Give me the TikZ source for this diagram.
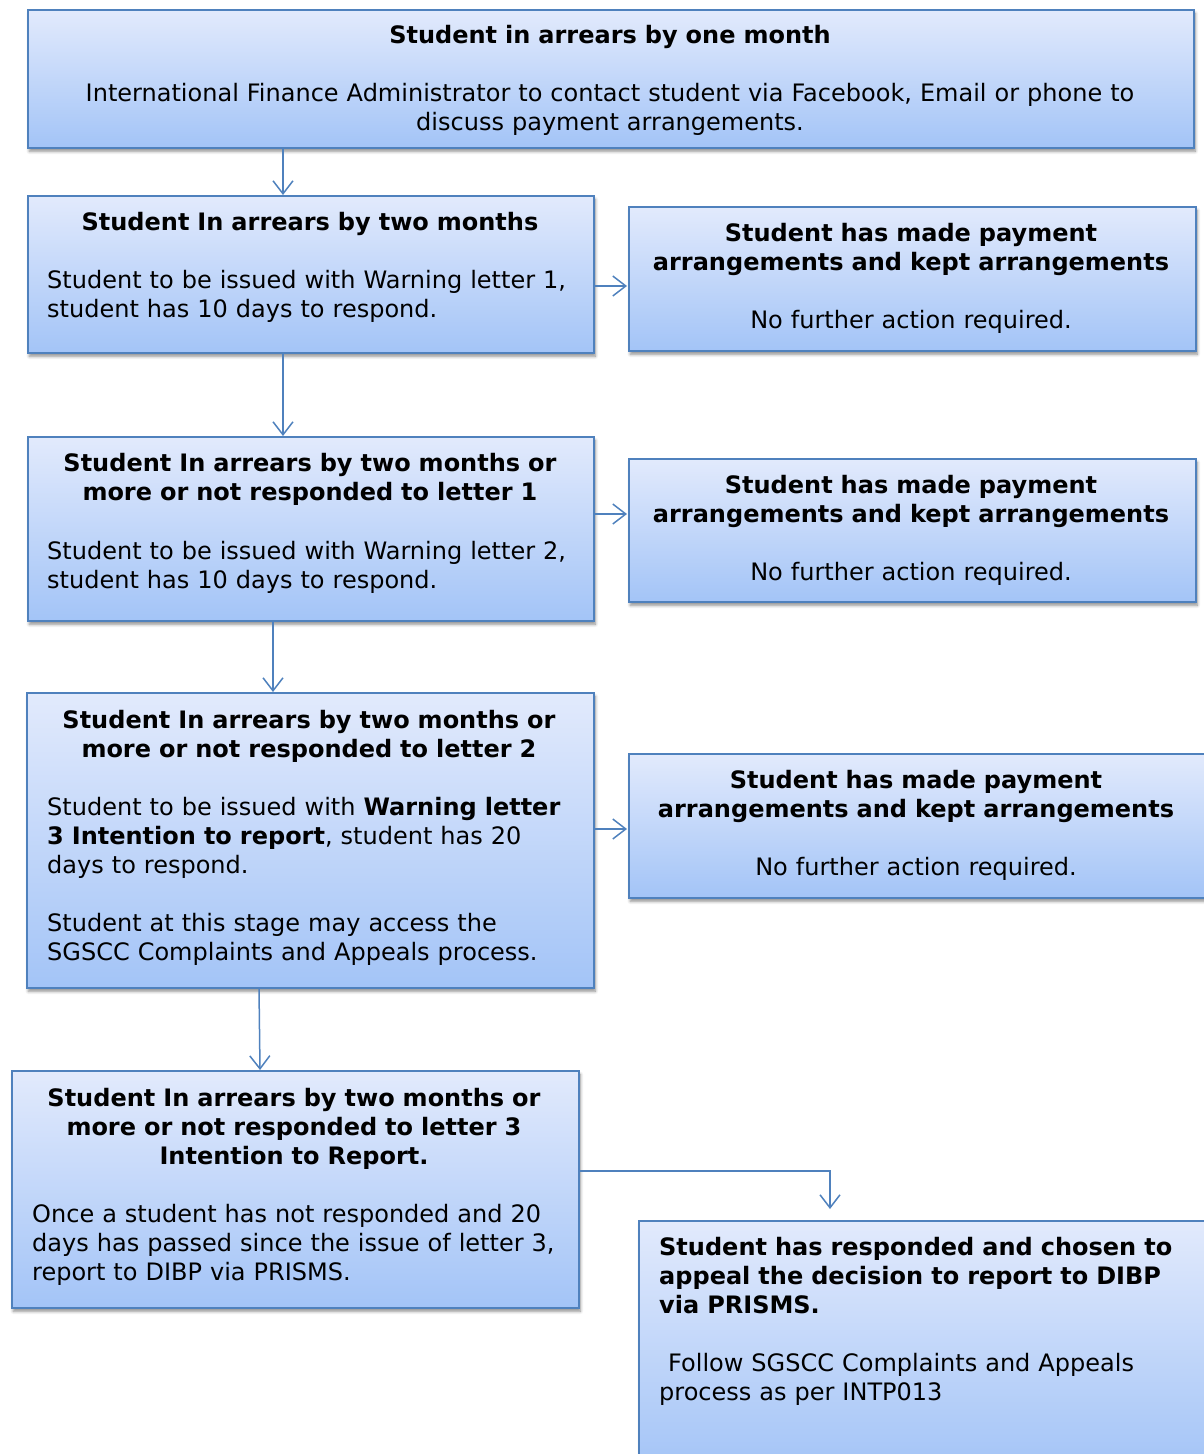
\documentclass[tikz,border=0pt]{standalone}
\usepackage{fontspec}
\setmainfont{DejaVu Sans}
\usetikzlibrary{arrows.meta,shadows,shadows.blur}
\definecolor{bordercol}{RGB}{79,129,189}
\definecolor{topcol}{RGB}{226,234,252}
\definecolor{botcol}{RGB}{163,196,247}
\begin{document}
\begin{tikzpicture}[x=1pt,y=-1pt,
  box/.style={draw=bordercol, line width=1.6pt, top color=topcol, bottom color=botcol,
    blur shadow={shadow xshift=1.5pt, shadow yshift=-3.5pt, shadow blur radius=3pt,
      shadow blur steps=6, shadow opacity=45},
    inner sep=0pt, anchor=north west},
  txt/.style={font=\fontsize{24}{29}\selectfont, inner sep=0pt, text width=1100pt},
  ctxt/.style={txt, align=center, anchor=base},
  ltxt/.style={txt, align=left, anchor=base west},
  arr/.style={draw=bordercol, line width=1.5pt, -{Straight Barb[length=13pt,width=20pt]}}]
\useasboundingbox (0,0) rectangle (1203,1454);

% boxes
\node[box, minimum width=1166pt, minimum height=138pt] (b1) at (27,9) {};
\node[box, minimum width=566pt, minimum height=157pt] (b2) at (27,195) {};
\node[box, minimum width=567pt, minimum height=144pt] (b3) at (628,206) {};
\node[box, minimum width=566pt, minimum height=184pt] (b4) at (27,436) {};
\node[box, minimum width=567pt, minimum height=143pt] (b5) at (628,458) {};
\node[box, minimum width=567pt, minimum height=295pt] (b6) at (26,692) {};
\node[box, minimum width=590pt, minimum height=144pt] (b7) at (628,753) {};
\node[box, minimum width=567pt, minimum height=237pt] (b8) at (11,1070) {};
\node[box, minimum width=580pt, minimum height=250pt] (b9) at (638,1220) {};

% texts
\node[ctxt] (t1) at (610,43) {\textbf{Student in arrears by one month}\\[29pt]
  International Finance Administrator to contact student via Facebook, Email or phone to\\
  discuss payment arrangements.};

\node[ctxt] (t2) at (310,230) {\textbf{Student In arrears by two months}};
\node[ltxt] (t2b) at (47,288) {Student to be issued with Warning letter 1,\\
  student has 10 days to respond.};

\node[ctxt] (t3) at (911,241) {\textbf{Student has made payment}\\
  \textbf{arrangements and kept arrangements}\\[29pt]No further action required.};

\node[ctxt] (t4) at (310,471) {\textbf{Student In arrears by two months or}\\
  \textbf{more or not responded to letter 1}};
\node[ltxt] (t4b) at (47,559) {Student to be issued with Warning letter 2,\\
  student has 10 days to respond.};

\node[ctxt] (t5) at (911,493) {\textbf{Student has made payment}\\
  \textbf{arrangements and kept arrangements}\\[29pt]No further action required.};

\node[ctxt] (t6) at (309,728) {\textbf{Student In arrears by two months or}\\
  \textbf{more or not responded to letter 2}};
\node[ltxt] (t6b) at (47,815) {Student to be issued with \textbf{Warning letter}\\
  \textbf{3 Intention to report}, student has 20\\
  days to respond.\\[29pt]
  Student at this stage may access the\\
  SGSCC Complaints and Appeals process.};

\node[ctxt] (t7) at (916,788) {\textbf{Student has made payment}\\
  \textbf{arrangements and kept arrangements}\\[29pt]No further action required.};

\node[ctxt] (t8) at (294,1106) {\textbf{Student In arrears by two months or}\\
  \textbf{more or not responded to letter 3}\\
  \textbf{Intention to Report.}};
\node[ltxt] (t8b) at (32,1222) {Once a student has not responded and 20\\
  days has passed since the issue of letter 3,\\
  report to DIBP via PRISMS.};

\node[ltxt] (t9) at (659,1255) {\textbf{Student has responded and chosen to}\\
  \textbf{appeal the decision to report to DIBP}\\
  \textbf{via PRISMS.}\\[29pt]
  \hspace*{9pt}Follow SGSCC Complaints and Appeals\\
  process as per INTP013};

% connectors
\draw[arr] ([xshift=256pt]b1.south west) -- ([xshift=256pt]b2.north west);
\draw[arr] ([xshift=256pt]b2.south west) -- ([xshift=256pt]b4.north west);
\draw[arr] ([xshift=246pt]b4.south west) -- ([xshift=247pt]b6.north west);
\draw[arr] ([xshift=233pt]b6.south west) -- ([xshift=249pt]b8.north west);
\draw[arr, shorten >=1pt] ([yshift=-91pt]b2.north east) -- ([yshift=-80pt]b3.north west);
\draw[arr, shorten >=1pt] ([yshift=-78pt]b4.north east) -- ([yshift=-56pt]b5.north west);
\draw[arr, shorten >=1pt] ([yshift=-137pt]b6.north east) -- ([yshift=-76pt]b7.north west);
\draw[arr, shorten >=11pt] ([yshift=-101pt]b8.north east) -| ([xshift=192pt]b9.north west);
\end{tikzpicture}
\end{document}
